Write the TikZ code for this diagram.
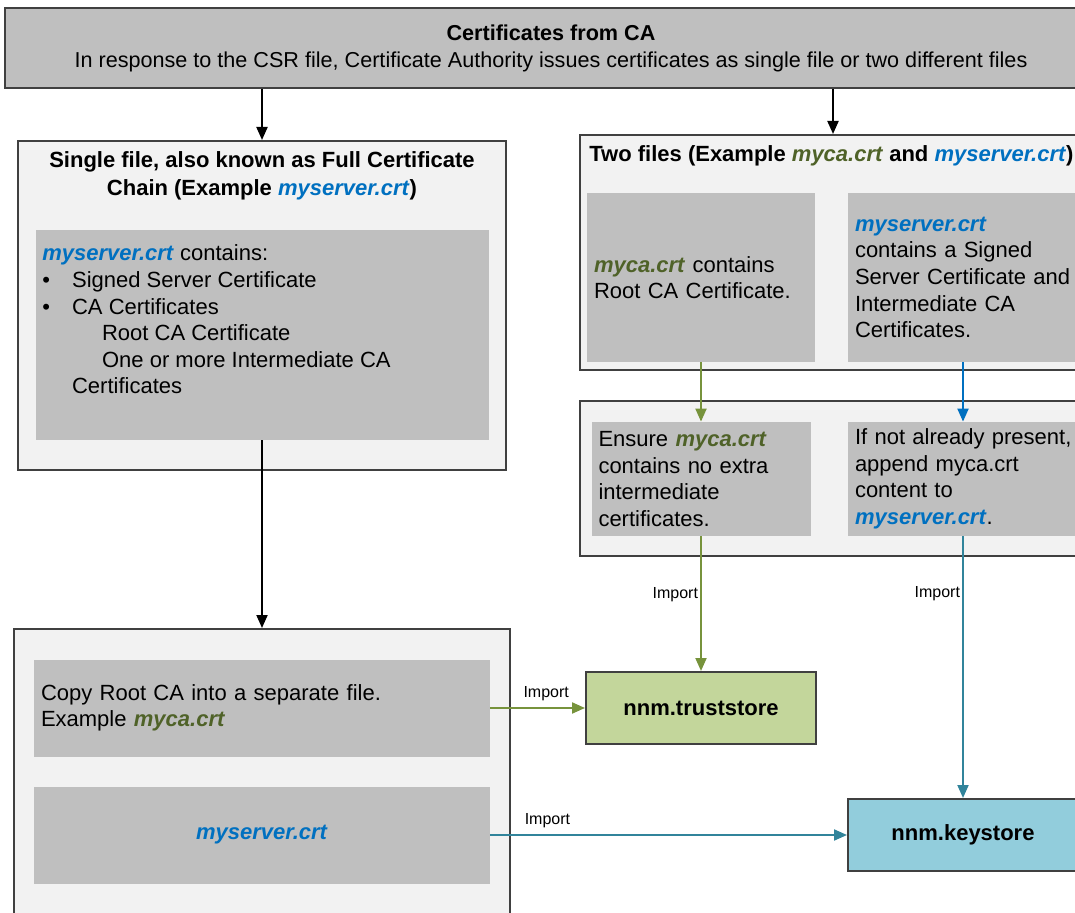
\documentclass[tikz,border=0pt]{standalone}
\usepackage{fontspec}
\setmainfont{Liberation Sans}
\usetikzlibrary{arrows.meta,positioning}

\definecolor{panelgray}{HTML}{F2F2F2}
\definecolor{cellgray}{HTML}{BFBFBF}
\definecolor{frame}{HTML}{404040}
\definecolor{cagreen}{HTML}{4F6228}
\definecolor{srvblue}{HTML}{0070C0}
\definecolor{linegreen}{HTML}{77933C}
\definecolor{lineteal}{HTML}{31849B}
\definecolor{trustfill}{HTML}{C3D69B}
\definecolor{keyfill}{HTML}{92CDDC}

\newcommand{\cafile}[1]{\textcolor{cagreen}{\textbf{\textit{#1}}}}
\newcommand{\srvfile}[1]{\textcolor{srvblue}{\textbf{\textit{#1}}}}

\tikzset{
  banner/.style={draw=frame, fill=cellgray, line width=1pt, align=center,
    font=\fontsize{10.8}{13.5}\selectfont},
  panel/.style={draw=frame, fill=panelgray, line width=1pt, inner sep=0pt},
  head/.style={font=\fontsize{11}{14}\selectfont\bfseries, inner sep=0pt},
  body/.style={font=\fontsize{11}{13.3}\selectfont, align=left, inner sep=0pt},
  cell/.style={body, fill=cellgray, inner xsep=3.5pt},
  store/.style={draw=frame, line width=1pt, font=\fontsize{11}{13}\selectfont\bfseries,
    minimum width=115pt, minimum height=36pt},
  imp/.style={font=\fontsize{8}{9}\selectfont, inner sep=1pt, text=black},
  flow/.style={line width=1pt, -{Triangle[length=6.5pt,width=5.5pt]}},
}

\begin{document}
\begin{tikzpicture}[x=0.5pt, y=-0.5pt]
  \useasboundingbox (0,0) rectangle (1075,913);
  \clip (0,0) rectangle (1075,913);

  % what the CA sends back
  \node[banner, minimum width=546pt, minimum height=40pt] (ca) at (551,48)
    {\textbf{Certificates from CA}\\In response to the CSR file, Certificate Authority issues certificates as single file or two different files};

  % single file
  \node[panel, minimum width=244pt, minimum height=164.5pt] (single) at (262,305.5) {};
  \node[head, align=center] (singlehead) at (262,176)
    {Single file, also known as Full Certificate\\Chain (Example \srvfile{myserver.crt})};
  \node[cell, minimum width=226.5pt, minimum height=105pt] (chain) at (262,335) {};
  \node[body, anchor=base west] (chaintxt) at (42,394)
    {\srvfile{myserver.crt} contains:\\
     \makebox[14.85pt][l]{\textbullet}Signed Server Certificate\\
     \makebox[14.85pt][l]{\textbullet}CA Certificates\\
     \hspace*{29.85pt}Root CA Certificate\\
     \hspace*{29.85pt}One or more Intermediate CA\\
     \hspace*{14.85pt}Certificates};

  % two files
  \node[panel, minimum width=253pt, minimum height=117.5pt] (twofiles) at (833,252.5) {};
  \node[head, anchor=base west] (twohead) at (589,162)
    {Two files (Example \cafile{myca.crt} and \srvfile{myserver.crt})};
  \node[cell, text width=107pt, minimum height=84.5pt] (mycabox) at (701,277.5)
    {\cafile{myca.crt} contains\\Root CA Certificate.};
  \node[cell, text width=108pt, minimum height=84.5pt] (srvbox) at (963,277.5)
    {\srvfile{myserver.crt}\\contains a Signed\\\mbox{Server Certificate and}\\Intermediate CA\\Certificates.};

  \node[panel, minimum width=253pt, minimum height=77.5pt] (prepare) at (833,478.5) {};
  \node[cell, text width=102.5pt, minimum height=57pt] (ensurebox) at (701,479)
    {Ensure \cafile{myca.crt}\\contains no extra\\intermediate\\certificates.};
  \node[cell, text width=108pt, minimum height=57pt] (appendbox) at (963,479)
    {\mbox{If not already present,}\\append myca.crt\\content to\\\srvfile{myserver.crt}.};

  % stores
  \node[store, fill=trustfill] (trust) at (701,708) {nnm.truststore};
  \node[store, fill=keyfill] (keystore) at (963,835) {nnm.keystore};

  % split the chain
  \node[panel, minimum width=248pt, minimum height=148pt] (copy) at (262,777) {};
  \node[cell, text width=221pt, minimum height=48.5pt] (rootcopy) at (262,708)
    {Copy Root CA into a separate file.\\Example \cafile{myca.crt}};
  \node[cell, text width=221pt, minimum height=48.5pt, align=center] (srvcopy) at (262,835)
    {\srvfile{myserver.crt}};

  \draw[flow] (ca.south -| single.north) -- (single.north);
  \draw[flow] (ca.south -| twofiles.north) -- (twofiles.north);
  \draw[flow] (chain.south) -- (copy.north);
  \draw[flow, color=linegreen] (mycabox.south) -- (ensurebox.north);
  \draw[flow, color=srvblue] (srvbox.south) -- (appendbox.north);
  \path[flow, color=linegreen] (ensurebox.south) edge node[imp, left=0pt, pos=0.43] {Import} (trust.north);
  \path[flow, color=lineteal] (appendbox.south) edge node[imp, left=0pt, pos=0.22] {Import} (keystore.north);
  \path[flow, color=linegreen] (rootcopy.east) edge node[imp, above=2pt, pos=0.59] {Import} (trust.west);
  \path[flow, color=lineteal] (srvcopy.east) edge node[imp, above=2pt, pos=0.16] {Import} (keystore.west);
\end{tikzpicture}
\end{document}
